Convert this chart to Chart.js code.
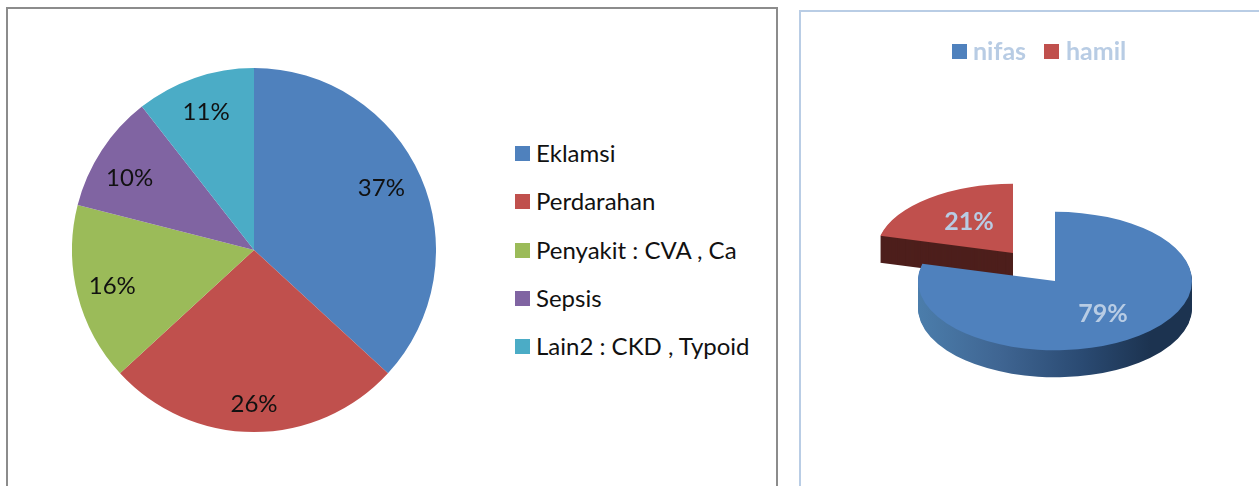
<!DOCTYPE html>
<html><head><meta charset="utf-8">
<script src="https://cdn.jsdelivr.net/npm/chart.js@4"></script>
<style>
html,body{margin:0;padding:0;background:#fff;overflow:hidden}
#stage{position:relative;width:1259px;height:486px;overflow:hidden;font-family:Lato,sans-serif}
.abs{position:absolute}
.frameL{left:6px;top:7px;width:768px;height:500px;border:2px solid #8c8c8c;box-sizing:content-box}
.frameR{left:799px;top:10px;width:500px;height:500px;border:2px solid #b9cde5}
.sw{position:absolute;width:15px;height:15px}
.lt{position:absolute;white-space:nowrap;line-height:30px;height:30px}
canvas{position:absolute;display:block}
</style></head><body><div id="stage">
<div class="abs frameL"></div><div class="abs frameR"></div>
<canvas id="left" width="364" height="364" style="left:72px;top:68px"></canvas>
<canvas id="right" width="459" height="476" style="left:800px;top:10px"></canvas>
</div>
<script>
const causeLabels = ['Eklamsi','Perdarahan','Penyakit : CVA , Ca','Sepsis','Lain2 : CKD , Typoid'];
const causeValues = [36.8,26.3,15.8,10.45,10.55];
const causeColors = ['#4f81bd','#c0504d','#9bbb59','#8064a2','#4bacc6'];
const phaseLabels = ['nifas','hamil'];
const phaseValues = [79,21];
const phaseColors = ['#4f81bd','#c0504d'];

const FONT = 'Lato, sans-serif';
const stage = document.getElementById('stage');
function legendItem(text,color,sx,sy,tx,ty,css){
  const s=document.createElement('div');s.className='sw';s.style.cssText=`left:${sx}px;top:${sy}px;background:${color}`;stage.appendChild(s);
  const t=document.createElement('div');t.className='lt';t.textContent=text;t.style.cssText=`left:${tx}px;top:${ty}px;${css}`;stage.appendChild(t);
}
const leftY=[146,194,243,291,339];
causeLabels.forEach((l,i)=>legendItem(l,causeColors[i],515,leftY[i],536,leftY[i]-8,'font-size:24px;color:#111'));
const rightPos=[[952,973],[1044,1066]];
phaseLabels.forEach((l,i)=>legendItem(l,phaseColors[i],rightPos[i][0],44,rightPos[i][1],35,'font-size:25px;font-weight:700;color:#b8cce4'));

// label placement for the flat pie: [radius, angle nudge in radians]
const labelPlace=[[142,-0.045],[153,0],[146,0.003],[144,-0.05],[147,0]];
const flatLabels={id:'flatLabels',afterDatasetsDraw(c){
  const ctx=c.ctx,meta=c.getDatasetMeta(0);
  ctx.save();ctx.font='24px '+FONT;ctx.fillStyle='#111';ctx.textAlign='center';ctx.textBaseline='middle';
  meta.data.forEach((a,i)=>{
    const m=(a.startAngle+a.endAngle)/2+labelPlace[i][1],r=labelPlace[i][0];
    ctx.fillText(Math.round(causeValues[i])+'%',a.x+Math.cos(m)*r,a.y+Math.sin(m)*r+1);
  });
  ctx.restore();
}};
new Chart(document.getElementById('left'),{type:'pie',
  data:{labels:causeLabels,datasets:[{data:causeValues,backgroundColor:causeColors,borderWidth:0}]},
  options:{responsive:false,animation:false,layout:{padding:0},plugins:{legend:{display:false},tooltip:{enabled:false}}},
  plugins:[flatLabels]});

// tilted, extruded pie: each library arc is drawn under a squash transform
const TILT=0.505,DEPTH=27;
const anchors=[[255,271],[213,243]];        // slice apex inside the canvas (second slice pulled out)
const sideDark=['#1c3350','#4d1f1c'];
const labelAt=[[303,304],[169,212]];
function drawArc(ctx,arc,ax,ay,fill){
  ctx.save();ctx.translate(ax,ay);ctx.scale(1,TILT);ctx.translate(-arc.x,-arc.y);
  if(fill){
    const o=Object.create(arc,{options:{value:Object.assign({},arc.options,{backgroundColor:fill,borderColor:fill})}});
    arc.draw.call(o,ctx);
  } else arc.draw(ctx);
  ctx.restore();
}
const tilted={id:'tilted',beforeDatasetsDraw(c){
  const ctx=c.ctx,arcs=c.getDatasetMeta(0).data;
  [1,0].forEach(i=>{
    const arc=arcs[i],[ax,ay]=anchors[i];
    let fill=sideDark[i];
    if(i===0){
      fill=ctx.createLinearGradient(arc.x-137,0,arc.x+137,0);
      fill.addColorStop(0,'#4b7dab');fill.addColorStop(0.3,'#3f6592');fill.addColorStop(0.6,'#2a4a72');fill.addColorStop(0.85,'#1c3350');fill.addColorStop(1,'#1c3350');
    }
    for(let d=DEPTH;d>=1;d--) drawArc(ctx,arc,ax,ay+d,fill);
    drawArc(ctx,arc,ax,ay,null);
  });
  ctx.save();ctx.font='bold 25px '+FONT;ctx.fillStyle='#b8cce4';ctx.textAlign='center';ctx.textBaseline='middle';
  arcs.forEach((a,i)=>ctx.fillText(phaseValues[i]+'%',labelAt[i][0],labelAt[i][1]));
  ctx.restore();
  return false;
}};
new Chart(document.getElementById('right'),{type:'pie',
  data:{labels:phaseLabels,datasets:[{data:phaseValues,backgroundColor:phaseColors,borderWidth:0,radius:137}]},
  options:{responsive:false,animation:false,layout:{padding:0},plugins:{legend:{display:false},tooltip:{enabled:false}}},
  plugins:[tilted]});
</script></body></html>
